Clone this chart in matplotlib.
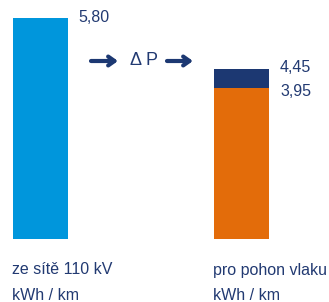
import matplotlib.pyplot as plt

plt.rcParams['font.family'] = ['Liberation Sans', 'DejaVu Sans']

# values (kWh / km)
grid_value = 5.80
drive_value = 3.95
loss_top = 4.45
value_labels = ["5,80", "4,45", "3,95"]
category_labels = ["ze sítě 110 kV", "pro pohon vlaku"]
unit_label = "kWh / km"

blue = "#0096DC"
orange = "#E36C0A"
navy = "#1C3872"
text_col = "#223A72"

W, H = 329, 302
fig = plt.figure(figsize=(W / 100, H / 100), dpi=100)
ax = fig.add_axes([0, 0, 1, 1])

# scale: bar base at pixel row 239, 5.80 reaches row 18
k = (239 - 18) / grid_value
ax.set_xlim(0, W)
ax.set_ylim(-(H - 239) / k, 239 / k)
ax.axis('off')

def py(pix):
    # pixel row -> data y
    return 239 / k - pix / k

ax.bar(13, grid_value, width=55, align='edge', color=blue)
ax.bar(214, drive_value, width=55, align='edge', color=orange)
ax.bar(214, loss_top - drive_value, bottom=drive_value, width=55, align='edge', color=navy)

fs = 11.5
ax.text(78, grid_value + 0.0, value_labels[0], color=text_col, fontsize=fs, va='center')
ax.text(280, loss_top + 0.06, value_labels[1], color=text_col, fontsize=fs, va='center')
ax.text(280, drive_value - 0.08, value_labels[2], color=text_col, fontsize=fs, va='center')

# arrows and delta P
for x0, x1 in [(91, 118), (167, 193)]:
    ax.annotate('', xy=(x1, py(61)), xytext=(x0, py(61)),
                arrowprops=dict(arrowstyle='->, head_length=0.45, head_width=0.32',
                                color=navy, lw=3, shrinkA=0, shrinkB=0))
ax.text(144.5, py(60.5), "Δ P", color=text_col, fontsize=13, ha='center', va='center')

for x, lab in zip([12, 213], category_labels):
    ax.text(x, py(270), lab, color=text_col, fontsize=fs, va='center')
    ax.text(x, py(295), unit_label, color=text_col, fontsize=fs, va='center')

fig.savefig("out.png", dpi=100)
